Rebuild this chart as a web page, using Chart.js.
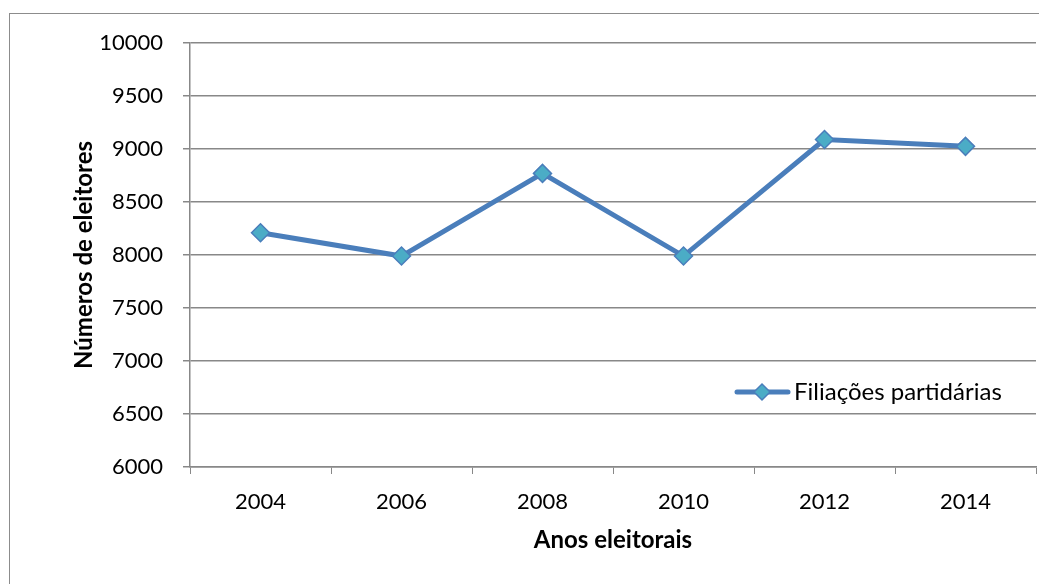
<!DOCTYPE html>
<html>
<head>
<meta charset="utf-8">
<script src="https://cdn.jsdelivr.net/npm/chart.js@4"></script>
<style>
  html, body { margin: 0; padding: 0; background: #fff; }
  #wrap { width: 1039px; height: 584px; position: relative; }
</style>
</head>
<body>
<div id="wrap"><canvas id="myChart" width="1039" height="584"></canvas></div>
<script>
const years = ["2004", "2006", "2008", "2010", "2012", "2014"];
const filiacoes = [8210, 7990, 8770, 7990, 9090, 9025];
const seriesName = "Filiações partidárias";
const yMin = 6000, yMax = 10000, yStep = 500;

const FONT = "Lato, 'Open Sans', sans-serif";
const lineColor = "#4a7ebb";
const markerFill = "#4bacc6";
const gridColor = "#888888";

// frame around the chart (only left/top are inside the picture)
const framePlugin = {
  id: "frame",
  beforeDraw(chart) {
    const c = chart.ctx;
    c.save();
    c.fillStyle = "#fff";
    c.fillRect(0, 0, chart.width, chart.height);
    c.strokeStyle = "#8c8c8c";
    c.lineWidth = 1;
    c.strokeRect(9.5, 13.5, 1200, 800);
    c.restore();
  }
};

// legend drawn inside the plot area
const insideLegend = {
  id: "insideLegend",
  afterDraw(chart) {
    const c = chart.ctx;
    const ds = chart.data.datasets[0];
    const y = 392;
    c.save();
    c.strokeStyle = lineColor;
    c.lineWidth = 5;
    c.lineCap = "round";
    c.beginPath();
    c.moveTo(737, y);
    c.lineTo(788, y);
    c.stroke();
    c.beginPath();
    c.moveTo(762, y - 8);
    c.lineTo(770, y);
    c.lineTo(762, y + 8);
    c.lineTo(754, y);
    c.closePath();
    c.fillStyle = markerFill;
    c.fill();
    c.lineWidth = 1.5;
    c.strokeStyle = lineColor;
    c.stroke();
    c.fillStyle = "#000";
    c.font = "24px " + FONT;
    c.textBaseline = "middle";
    c.fillText(ds.label, 794, y);
    c.restore();
  }
};

const ctx = document.getElementById("myChart").getContext("2d");
new Chart(ctx, {
  type: "line",
  data: {
    labels: years,
    datasets: [{
      label: seriesName,
      data: filiacoes,
      borderColor: lineColor,
      borderWidth: 5,
      tension: 0,
      pointStyle: "rectRot",
      pointRadius: 9,
      pointHoverRadius: 9,
      pointBackgroundColor: markerFill,
      pointBorderColor: lineColor,
      pointBorderWidth: 1.5,
    }]
  },
  options: {
    responsive: false,
    animation: false,
    layout: { autoPadding: false, padding: { left: 0, top: 43, right: 3, bottom: 0 } },
    plugins: {
      legend: { display: false },
      tooltip: { enabled: false },
    },
    scales: {
      x: {
        offset: true,
        grid: {
          offset: true,
          drawOnChartArea: false,
          color: gridColor,
          tickLength: 7,
          tickColor: gridColor,
        },
        border: { color: gridColor, width: 1.5 },
        ticks: { color: "#000", font: { family: FONT, size: 22 }, padding: 15, maxRotation: 0 },
        title: {
          display: true,
          text: "Anos eleitorais",
          color: "#000",
          font: { family: FONT, size: 24, weight: "bold" },
          padding: { top: 0, bottom: 29 },
        },
        afterFit(s) {
          s.height = 117;
          s.paddingLeft = 0;
          s.paddingRight = 0;
        },
      },
      y: {
        min: yMin,
        max: yMax,
        grid: {
          color: gridColor,
          lineWidth: 1.5,
          tickLength: 7,
        },
        border: { color: gridColor, width: 1.5 },
        ticks: {
          stepSize: yStep,
          color: "#000",
          font: { family: FONT, size: 22 },
          padding: 20,
          callback: (v) => String(v),
        },
        title: {
          display: true,
          text: "Números de eleitores",
          color: "#000",
          font: { family: FONT, size: 24, weight: "bold" },
          padding: { top: 70, bottom: 0 },
        },
        afterFit(s) {
          s.width = 190;
          s.paddingTop = 0;
          s.paddingBottom = 0;
        },
      }
    }
  },
  plugins: [framePlugin, insideLegend]
});
</script>
</body>
</html>
